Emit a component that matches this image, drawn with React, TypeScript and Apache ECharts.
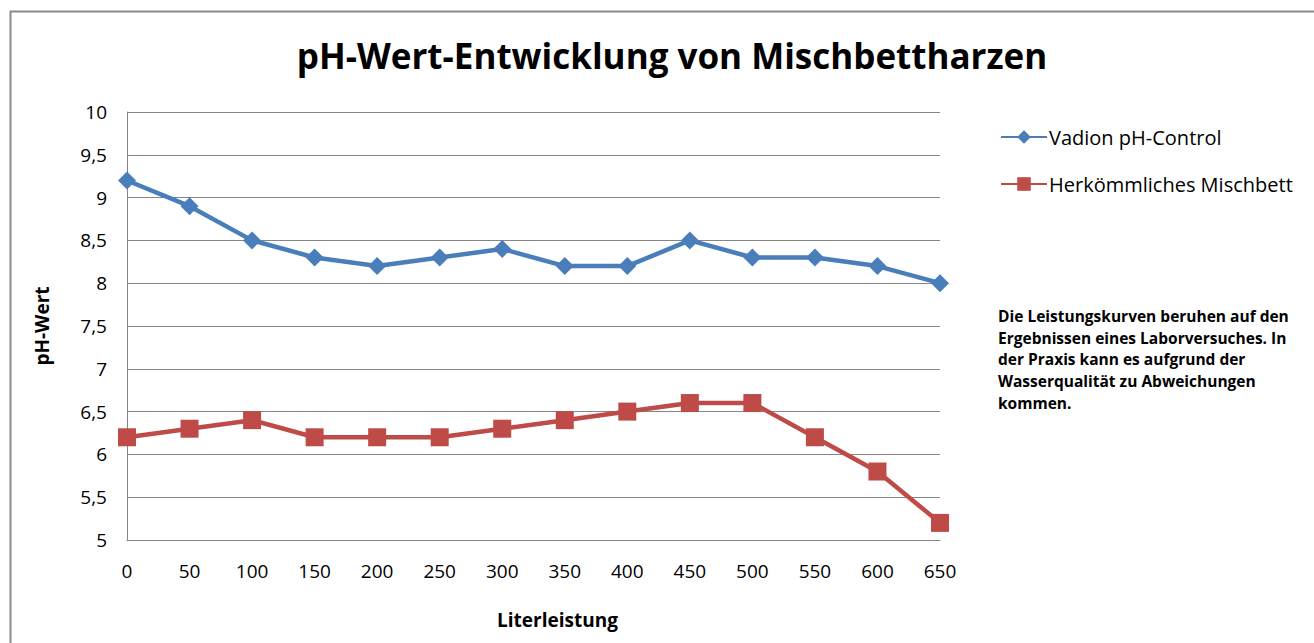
import React, { useEffect, useRef } from "react";
import * as echarts from "echarts";

const categories = ["0", "50", "100", "150", "200", "250", "300", "350", "400", "450", "500", "550", "600", "650"];
const vadion = [9.2, 8.9, 8.5, 8.3, 8.2, 8.3, 8.4, 8.2, 8.2, 8.5, 8.3, 8.3, 8.2, 8.0];
const herkoemmlich = [6.2, 6.3, 6.4, 6.2, 6.2, 6.2, 6.3, 6.4, 6.5, 6.6, 6.6, 6.2, 5.8, 5.2];
const seriesNames = ["Vadion pH-Control", "Herkömmliches Mischbett"];
const titleText = "pH-Wert-Entwicklung von Mischbettharzen";
const noteText =
  "Die Leistungskurven beruhen auf den\nErgebnissen eines Laborversuches. In\nder Praxis kann es aufgrund der\nWasserqualität zu Abweichungen\nkommen.";

const FONT = "'Open Sans', 'Noto Sans', sans-serif";

export default function App() {
  const ref = useRef<HTMLDivElement>(null);
  useEffect(() => {
    if (!ref.current) return;
    const chart = echarts.init(ref.current, null, { renderer: "svg" });
    chart.setOption({
      animation: false,
      backgroundColor: "#ffffff",
      textStyle: { fontFamily: FONT },
      title: {
        text: titleText,
        left: 667,
        top: 33,
        textAlign: "center",
        textStyle: { fontFamily: FONT, fontSize: 35, fontWeight: "bold", color: "#000" },
      },
      legend: {
        orient: "vertical",
        left: 995,
        top: 122,
        itemWidth: 46,
        itemHeight: 17,
        itemGap: 27,
        textStyle: { fontFamily: FONT, fontSize: 20, color: "#000", padding: [0, 0, 0, -3] },
        data: seriesNames,
      },
      graphic: [
        {
          type: "rect",
          shape: { x: 10.5, y: 11.5, width: 1400, height: 700 },
          style: { fill: "none", stroke: "#8c8c8c", lineWidth: 2 },
          silent: true,
        },
        {
          type: "text",
          left: 998,
          top: 305,
          style: {
            text: noteText,
            font: `bold 15.5px ${FONT}`,
            lineHeight: 21.7,
            fill: "#000",
          },
        },
      ],
      grid: { left: 127, right: 374, top: 112, bottom: 103, containLabel: false },
      xAxis: {
        type: "category",
        data: categories,
        boundaryGap: false,
        name: "Literleistung",
        nameLocation: "middle",
        nameGap: 70,
        nameTextStyle: { fontFamily: FONT, fontSize: 19, fontWeight: "bold", color: "#000", padding: [0, 0, 0, 48] },
        axisLine: { show: true, lineStyle: { color: "#868686", width: 1 } },
        axisTick: { show: false },
        axisLabel: { fontFamily: FONT, fontSize: 19, color: "#000", margin: 21 },
        splitLine: { show: false },
      },
      yAxis: {
        type: "value",
        min: 5,
        max: 10,
        interval: 0.5,
        name: "pH-Wert",
        nameLocation: "middle",
        nameGap: 76,
        nameRotate: 90,
        nameTextStyle: { fontFamily: FONT, fontSize: 19, fontWeight: "bold", color: "#000" },
        axisLine: { show: true, lineStyle: { color: "#868686", width: 1 } },
        axisTick: { show: false },
        axisLabel: {
          fontFamily: FONT,
          fontSize: 19,
          color: "#000",
          margin: 20,
          formatter: (v: number) => String(v).replace(".", ","),
        },
        splitLine: { show: true, lineStyle: { color: "#868686", width: 1 } },
      },
      series: [
        {
          name: seriesNames[0],
          type: "line",
          data: vadion,
          color: "#4a7ebb",
          symbol: "diamond",
          symbolSize: 18,
          lineStyle: { width: 4.5, color: "#4a7ebb" },
          itemStyle: { color: "#4a7ebb" },
        },
        {
          name: seriesNames[1],
          type: "line",
          data: herkoemmlich,
          color: "#be4b48",
          symbol: "rect",
          symbolSize: 18,
          lineStyle: { width: 4.5, color: "#be4b48" },
          itemStyle: { color: "#be4b48" },
        },
      ],
    });
    return () => chart.dispose();
  }, []);
  return (
    <div
      ref={ref}
      style={{ position: "absolute", left: 0, top: 0, width: 1314, height: 643 }}
    />
  );
}
